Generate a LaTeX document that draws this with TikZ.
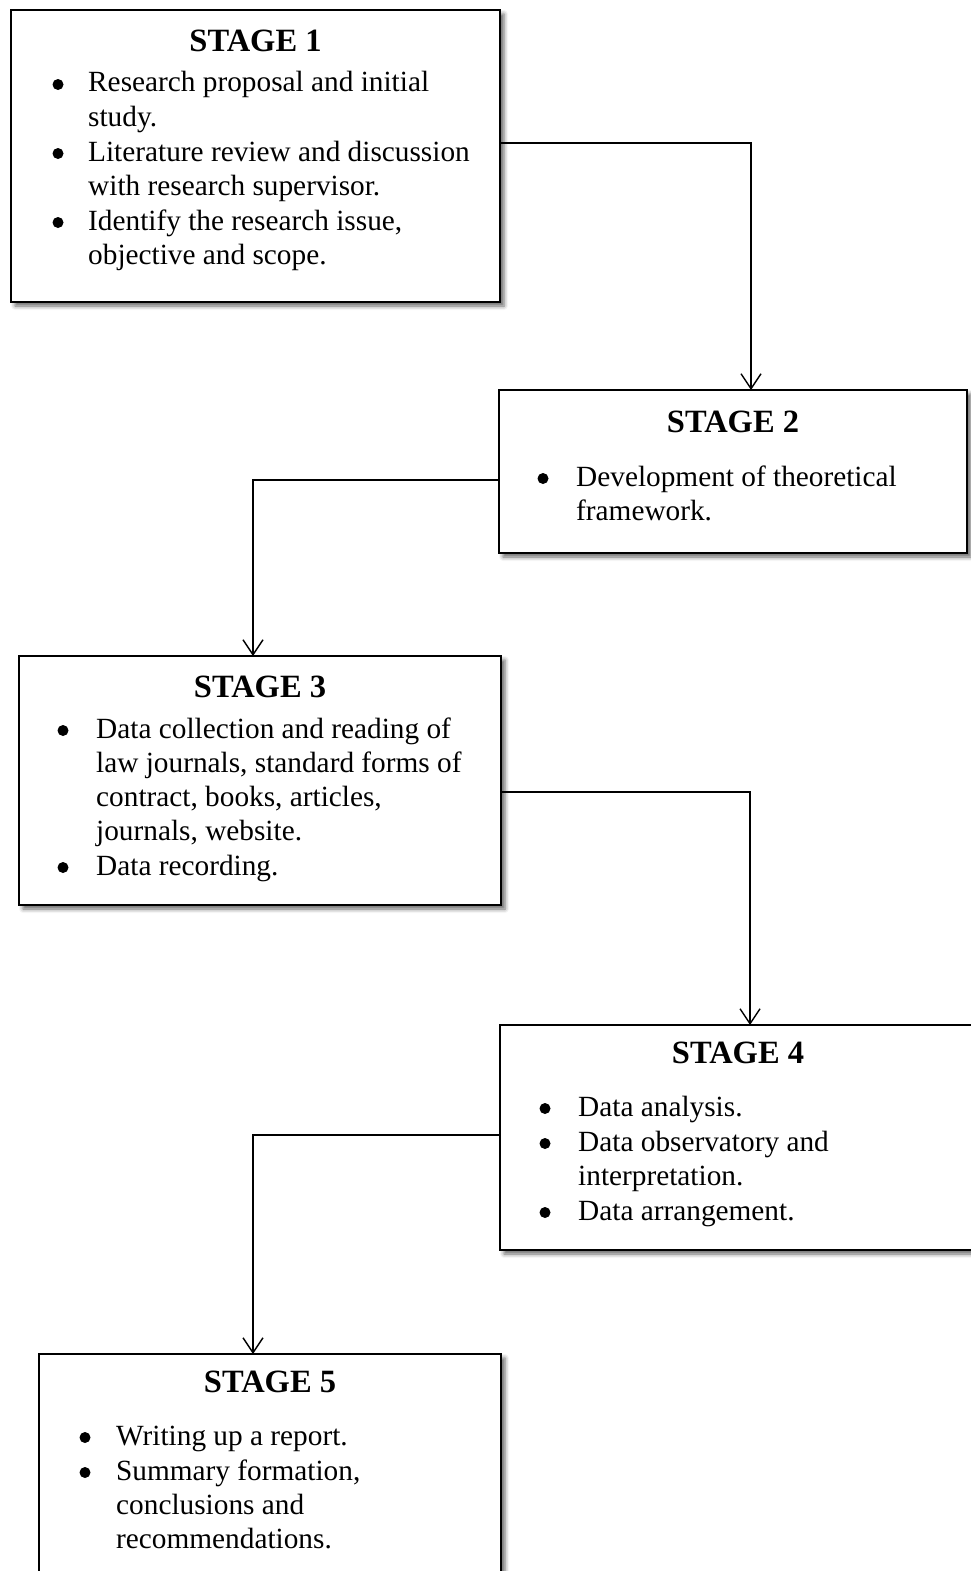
\documentclass[tikz,border=0pt]{standalone}
\usepackage{fontspec}
\setmainfont{Liberation Serif}
\usetikzlibrary{arrows.meta,shadows.blur}
\tikzset{
  stagebox/.style={draw=black, line width=1.6pt, fill=white, inner sep=0pt, outer sep=0pt,
    blur shadow={shadow xshift=4pt, shadow yshift=-4pt, shadow blur radius=4pt, shadow opacity=60}},
  ttl/.style={anchor=base, inner sep=0pt, font=\fontsize{32.5}{34}\selectfont\bfseries},
  txt/.style={anchor=base west, inner sep=0pt, font=\fontsize{29.3}{34}\selectfont},
  bul/.style={circle, fill=black, inner sep=0pt, minimum size=11pt, yshift=7.5pt},
  conn/.style={line width=1.4pt, -{Straight Barb[length=15pt,width=20pt,line width=1.4pt]}},
}
\begin{document}
\begin{tikzpicture}[x=1pt,y=-1pt]
\useasboundingbox (0,0) rectangle (971,1571);
% boxes
\node[stagebox, minimum width=489pt, minimum height=292pt] (b1) at (255.5,156) {};
\node[stagebox, minimum width=468pt, minimum height=163pt] (b2) at (733,471.5) {};
\node[stagebox, minimum width=482pt, minimum height=249pt] (b3) at (260,780.5) {};
\node[stagebox, minimum width=476pt, minimum height=225pt] (b4) at (738,1137.5) {};
\node[stagebox, minimum width=462pt, minimum height=240pt] (b5) at (270,1474) {};
% stage 1
\node[ttl] (t1) at (255.5,52) {STAGE 1};
\node[bul] (t1b1) at (58,92) {};
\node[txt] (t1l1) at (88,92) {Research proposal and initial};
\node[txt] (t1l2) at (88,126.5) {study.};
\node[bul] (t1b2) at (58,161) {};
\node[txt] (t1l3) at (88,161) {Literature review and discussion};
\node[txt] (t1l4) at (88,195.5) {with research supervisor.};
\node[bul] (t1b3) at (58,230) {};
\node[txt] (t1l5) at (88,230) {Identify the research issue,};
\node[txt] (t1l6) at (88,264.5) {objective and scope.};
% stage 2
\node[ttl] (t2) at (733,432) {STAGE 2};
\node[bul] (t2b1) at (543,486) {};
\node[txt] (t2l1) at (576,486) {Development of theoretical};
\node[txt] (t2l2) at (576,520) {framework.};
% stage 3
\node[ttl] (t3) at (260,697) {STAGE 3};
\node[bul] (t3b1) at (63,738) {};
\node[txt] (t3l1) at (96,738) {Data collection and reading of};
\node[txt] (t3l2) at (96,772) {law journals, standard forms of};
\node[txt] (t3l3) at (96,806) {contract, books, articles,};
\node[txt] (t3l4) at (96,840.5) {journals, website.};
\node[bul] (t3b2) at (63,875) {};
\node[txt] (t3l5) at (96,875) {Data recording.};
% stage 4
\node[ttl] (t4) at (738,1063) {STAGE 4};
\node[bul] (t4b1) at (545,1116) {};
\node[txt] (t4l1) at (578,1116) {Data analysis.};
\node[bul] (t4b2) at (545,1151) {};
\node[txt] (t4l2) at (578,1151) {Data observatory and};
\node[txt] (t4l3) at (578,1185) {interpretation.};
\node[bul] (t4b3) at (545,1220) {};
\node[txt] (t4l4) at (578,1220) {Data arrangement.};
% stage 5
\node[ttl] (t5) at (270,1392) {STAGE 5};
\node[bul] (t5b1) at (85,1445) {};
\node[txt] (t5l1) at (116,1445) {Writing up a report.};
\node[bul] (t5b2) at (85,1480) {};
\node[txt] (t5l2) at (116,1480) {Summary formation,};
\node[txt] (t5l3) at (116,1514) {conclusions and};
\node[txt] (t5l4) at (116,1548) {recommendations.};
% connectors
\coordinate (k1) at (751,143);
\coordinate (k2) at (253,480);
\coordinate (k3) at (750,792);
\coordinate (k4) at (253,1135);
\draw[conn] (b1.east |- k1) -- (k1) -- (k1 |- b2.north);
\draw[conn] (b2.west |- k2) -- (k2) -- (k2 |- b3.north);
\draw[conn] (b3.east |- k3) -- (k3) -- (k3 |- b4.north);
\draw[conn] (b4.west |- k4) -- (k4) -- (k4 |- b5.north);
\end{tikzpicture}
\end{document}
